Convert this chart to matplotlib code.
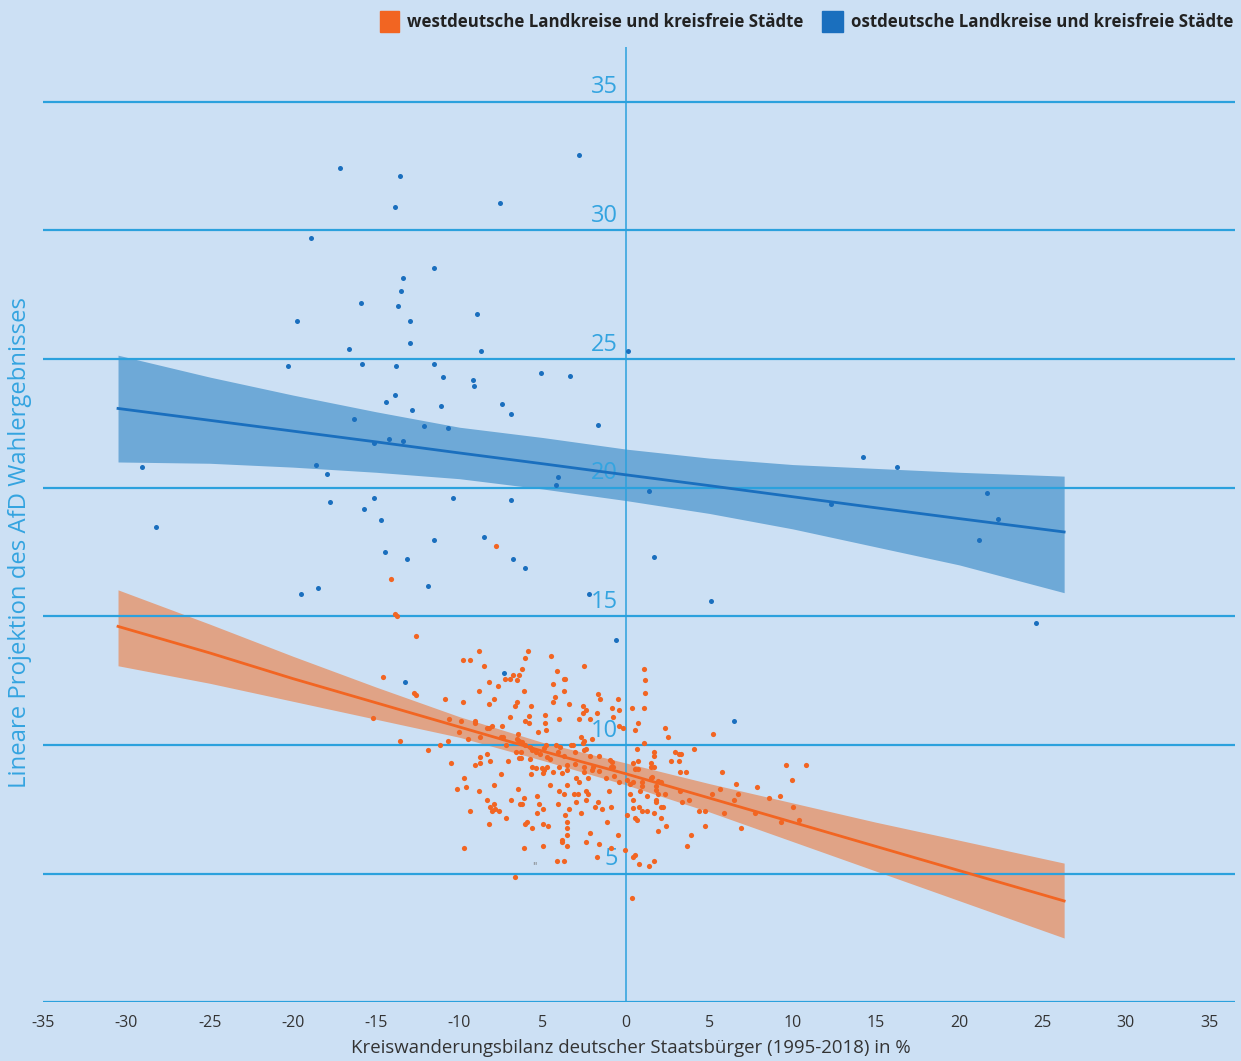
import matplotlib
matplotlib.use("Agg")
import matplotlib.pyplot as plt
from matplotlib.patches import Rectangle

# westdeutsche Landkreise (orange)
west_x = [-7.80, -14.11, -13.87, -13.75, -12.61, -14.59, -12.73, -12.61, -15.19, -13.57, -11.89, -11.17,
          -8.84, -5.87, -6.05, -4.48, -9.80, -9.38, -8.54, -6.24, -2.50, -4.16, -6.77, -6.44, -7.28, -6.98,
          -6.56, -3.72, -3.64, -8.22, -4.36, -7.70, -8.84, -6.14, -3.74, -1.66, -1.54, -4.24, -10.85, -9.80,
          -7.94, -6.54, -6.65, -4.40, -3.42, -0.50, -8.22, -5.72, -2.60, -2.38, -2.60, -1.76, -0.82, -0.40,
          -6.98, -5.82, -4.88, -4.04, -2.80, -2.18, -0.80, -10.64, -9.91, -9.07, -9.07, -8.04, -8.24, -8.34,
          -7.43, -6.05, -5.82, -4.88, -4.80, -5.30, -0.40, -0.20, -10.03, -6.47, -6.56, -6.41, -6.24, -7.49,
          -7.40, -9.49, -8.77, -2.70, -2.50, -2.60, -2.06, -10.67, -7.19, -6.05, -5.75, -5.63, -4.82, -4.90,
          -4.20, -3.96, -3.32, -3.20, -2.54, -2.42, -6.60, -6.29, -5.40, -4.10, -3.04, -8.75, -8.15, -8.36,
          -6.44, -6.32, -5.78, -5.16, -4.72, -4.56, -3.70, -2.16, -1.60, -0.96, -0.84, -10.52, -8.77, -9.05,
          -7.08, -5.64, -5.40, -5.04, -4.76, -4.04, -3.56, -3.08, -2.50, -2.00, -0.92, -0.76,
          -4.92, -4.96, -4.36, -3.86, -3.52, -5.72, -7.50, -2.50, -2.06, -1.64, -1.22, -0.72, -0.40, -2.28,
          -3.00, -2.80, -9.71, -10.13, -9.59, -7.92, -8.84, -6.47, -4.58, -3.52, -4.04, -3.72, -3.12, -2.88,
          -2.40, -2.28, -1.02, -5.32, -6.14, -8.33, -6.89, -2.40, -3.00, -1.66, -7.92, -8.15, -7.85, -8.03,
          -7.61, -6.35, -6.23, -5.20, -4.06, -1.86, -1.44, -0.92, -4.98, -3.42, -9.38, -5.32, -2.68, -3.64,
          0.04, -7.19, -3.54, -1.12, -5.93, -6.05, -8.22, -4.98, -4.68, -5.63, -3.52, -2.16, -3.52, -0.50,
          -3.84, -3.84, -2.38, -1.64, -3.52, -4.98, -9.71, -6.14, -0.92, -0.06, -1.74, -4.16, -3.72, -6.66,
          1.06, 1.16, 1.16, 0.34, 1.06, 0.74, 0.54, 2.32, 2.52, 5.24, 1.06, 0.64, 1.68, 1.68, 2.94, 3.16,
          3.28, 4.10, 0.44, 0.74, 1.48, 1.48, 1.70, 2.72, 3.16, 9.62, 10.79, 0.54, 0.74,
          3.26, 3.58, 5.76, 0.08, 0.44, 0.24, 0.96, 0.96, 1.48, 1.58, 1.92, 2.12, 1.78, 1.78, 0.24, 0.86,
          1.28, 1.92, 2.32, 3.26, 5.66, 6.60, 6.71, 7.86, 9.95, 0.44, 1.78, 1.78, 3.36, 3.78, 5.14, 6.50,
          8.58, 9.23, 0.76, 2.12, 2.22, 0.44, 0.96, 1.28, 1.70, 4.40, 4.72, 5.87, 7.76, 10.04, 0.54, 0.66,
          2.12, 9.32, 10.37, 2.42, 4.72, 1.90, 6.92, 3.88, 3.68, 0.54, 0.44, 0.76, 1.38, 1.70, 0.34]
west_y = [17.73, 16.45, 15.09, 15.01, 14.24, 12.64, 12.02, 11.94, 11.05, 10.16, 9.82, 9.99,
          13.64, 13.64, 13.38, 13.47, 13.30, 13.30, 13.06, 12.97, 13.06, 12.88, 12.72, 12.72, 12.55, 12.55,
          12.53, 12.55, 12.55, 12.45, 12.37, 12.28, 12.11, 12.11, 12.11, 11.98, 11.78, 11.85, 11.78, 11.68,
          11.78, 11.68, 11.52, 11.68, 11.61, 11.78, 11.61, 11.52, 11.52, 11.35, 11.26, 11.26, 11.43, 11.35,
          11.09, 11.12, 11.18, 11.00, 11.00, 11.00, 11.09, 11.00, 10.92, 10.92, 10.84, 10.75, 10.66, 10.66,
          10.75, 10.92, 10.84, 10.84, 10.58, 10.51, 10.75, 10.66, 10.51, 10.42, 10.24, 10.17, 10.12, 10.32,
          10.32, 10.24, 10.32, 10.32, 10.17, 10.08, 10.24, 10.17, 9.99, 9.99, 9.91, 9.81, 9.99, 9.87,
          9.99, 9.91, 9.99, 9.99, 9.81, 9.86, 9.73, 9.73, 9.73, 9.73, 9.73, 9.55, 9.39, 9.65,
          9.49, 9.49, 9.47, 9.65, 9.52, 9.44, 9.56, 9.57, 9.57, 9.42, 9.34, 9.31, 9.31, 9.21,
          9.39, 9.16, 9.11, 9.11, 9.16, 9.16, 9.21, 9.26, 9.16, 9.16, 9.16, 9.16,
          9.03, 8.90, 8.96, 8.90, 9.04, 8.88, 8.88, 8.96, 9.04, 9.00, 8.71, 8.81, 8.55, 8.71,
          8.71, 8.55, 8.71, 8.29, 8.37, 8.45, 8.20, 8.29, 8.45, 8.46, 8.20, 8.11, 8.11, 8.11,
          8.20, 8.11, 8.20, 8.03, 7.95, 7.86, 7.86, 7.86, 7.77, 7.77, 7.70, 7.60, 7.51, 7.43,
          7.43, 7.70, 7.70, 7.70, 7.70, 7.60, 7.52, 7.60, 7.52, 7.52, 7.43, 7.35, 7.35, 7.27,
          7.27, 7.17, 7.01, 7.01, 7.01, 6.92, 6.92, 6.92, 6.84, 6.76, 6.76, 6.58, 6.50, 6.50,
          6.32, 6.22, 6.24, 6.15, 6.07, 6.07, 6.00, 6.00, 6.00, 5.91, 5.65, 5.49, 5.49, 4.88,
          12.97, 12.54, 12.03, 11.44, 11.44, 10.84, 10.58, 10.67, 10.32, 10.42, 10.08, 9.83, 9.74, 9.56, 9.74, 9.65,
          9.65, 9.83, 9.31, 9.39, 9.31, 9.16, 9.16, 9.39, 9.39, 9.22, 9.22, 9.06, 9.06,
          8.96, 8.96, 8.96, 8.64, 8.57, 8.47, 8.55, 8.42, 8.71, 8.77, 8.61, 8.55, 8.42, 8.25, 8.11, 8.20,
          8.03, 8.11, 8.11, 8.20, 8.29, 8.47, 8.11, 8.37, 8.63, 7.87, 7.87, 7.77, 7.77, 7.87, 8.11, 7.87,
          7.95, 8.03, 7.60, 7.60, 7.60, 7.54, 7.43, 7.43, 7.35, 7.43, 7.43, 7.35, 7.35, 7.60, 7.17, 7.09,
          7.17, 7.01, 7.10, 6.84, 6.84, 6.67, 6.76, 6.50, 6.07, 5.72, 5.65, 5.39, 5.31, 5.48, 4.04]

# ostdeutsche Landkreise (blue)
east_x = [-17.17, -13.57, -2.82, -13.87, -7.56, -18.91, -11.53, -13.39, -13.51, -15.91, -13.69, -19.75,
          -8.94, -12.97, -12.97, -16.63, -8.70, 0.12, -20.29, -15.85, -13.81, -11.53, -10.99, -5.10, -3.36,
          -9.19, -9.13, -13.87, -14.41, -7.44, -11.11, -12.85, -6.90, -16.33, -12.13, -10.69, -1.68, -14.23,
          -13.39, -15.13, 14.23, -29.06, -18.61, 16.27, -17.95, -4.08, -4.20, 21.67, 1.38, -15.13, -10.39,
          -6.90, -17.77, 12.31, -15.73, -28.22, -14.71, 22.33, 21.19, -11.53, -8.52, -14.47, -13.15, -6.78,
          1.68, -6.06, -11.89, -18.49, -19.51, -2.22, 5.10, 24.61, -0.60, -7.32, -13.27, 6.48]
east_y = [32.43, 32.11, 32.93, 30.91, 31.07, 29.70, 28.54, 28.15, 27.64, 27.18, 27.06, 26.48,
          26.75, 26.48, 25.62, 25.39, 25.31, 25.31, 24.73, 24.81, 24.73, 24.81, 24.30, 24.46, 24.34,
          24.19, 23.95, 23.60, 23.33, 23.25, 23.18, 23.02, 22.86, 22.67, 22.40, 22.32, 22.44, 21.89,
          21.82, 21.74, 21.19, 20.80, 20.88, 20.80, 20.53, 20.42, 20.11, 19.79, 19.87, 19.60, 19.60,
          19.52, 19.44, 19.37, 19.17, 18.47, 18.74, 18.78, 17.97, 17.97, 18.08, 17.50, 17.23, 17.23,
          17.31, 16.88, 16.18, 16.10, 15.87, 15.87, 15.60, 14.74, 14.08, 12.80, 12.45, 10.93]

# Regressionslinien mit Konfidenzband
fit_x = [-30.5, -25, -20, -15, -10, -5, 0, 5, 10, 15, 20, 26.3]
west_fit = [14.61, 13.58, 12.58, 11.64, 10.70, 9.76, 8.88, 7.94, 7.00, 6.06, 5.12, 3.94]
west_up = [16.03, 14.70, 13.45, 12.25, 11.10, 10.10, 9.30, 8.50, 7.75, 7.00, 6.30, 5.41]
west_lo = [13.08, 12.40, 11.70, 11.00, 10.30, 9.40, 8.45, 7.40, 6.25, 5.10, 3.95, 2.50]
east_fit = [23.08, 22.62, 22.20, 21.78, 21.35, 20.93, 20.50, 20.08, 19.65, 19.22, 18.80, 18.28]
east_up = [25.15, 24.30, 23.60, 22.95, 22.35, 21.95, 21.50, 21.15, 20.90, 20.75, 20.60, 20.45]
east_lo = [21.00, 20.95, 20.80, 20.60, 20.35, 19.95, 19.50, 19.00, 18.40, 17.70, 17.00, 15.92]

x_ticks = [-35, -30, -25, -20, -15, -10, -5, 0, 5, 10, 15, 20, 25, 30, 35]
x_ticklabels = ["-35", "-30", "-25", "-20", "-15", "-10", "5", "0", "5", "10", "15", "20", "25", "30", "35"]
y_ticks = [5, 10, 15, 20, 25, 30, 35]
legend_labels = ["westdeutsche Landkreise und kreisfreie Städte",
                 "ostdeutsche Landkreise und kreisfreie Städte"]

bg = "#cce0f4"
grid_c = "#2ba1dd"
orange = "#f26522"
blue = "#1a6fbe"

fig = plt.figure(figsize=(12.41, 10.61), dpi=100, facecolor=bg)
ax = fig.add_axes([0.0347, 0.0553, 0.9605, 0.9007])
ax.set_facecolor(bg)
ax.set_xlim(-35, 36.56)
ax.set_ylim(0, 37.14)

ax.fill_between(fit_x, east_lo, east_up, color="#6ea9d7", lw=0, zorder=1)
ax.fill_between(fit_x, west_lo, west_up, color="#e0a386", lw=0, zorder=1)

for v in [0] + y_ticks:
    ax.axhline(v, color=grid_c, lw=1.6, zorder=2)
ax.axvline(0, color=grid_c, lw=1.1, zorder=2)

for v in y_ticks:
    ax.annotate(str(v), (0, v), xytext=(-6, 6), textcoords="offset points",
                ha="right", va="baseline", fontsize=17, color="#34a4e0",
                family="Open Sans", zorder=2)

ax.plot(fit_x, east_fit, color=blue, lw=2, zorder=3)
ax.plot(fit_x, west_fit, color=orange, lw=2, zorder=3)

ax.scatter(east_x, east_y, s=13, color=blue, lw=0, zorder=4)
ax.scatter(west_x, west_y, s=14, color=orange, lw=0, zorder=4)
ax.text(-5.5, 5.1, '"', fontsize=7, color="#777777", ha="center", va="bottom")

for s in ax.spines.values():
    s.set_visible(False)
ax.set_yticks([])
ax.set_xticks(x_ticks)
ax.set_xticklabels(x_ticklabels, family="Open Sans", fontsize=11.5, color="#333333")
ax.tick_params(axis="x", length=0, pad=9)
ax.set_xlabel("Kreiswanderungsbilanz deutscher Staatsbürger (1995-2018) in %",
              family="Open Sans", fontsize=13.4, color="#333333", labelpad=6, x=0.4935)

fig.text(0.016, 0.489, "Lineare Projektion des AfD Wahlergebnisses", rotation=90,
         ha="center", va="center", fontsize=17.2, color="#34a4e0", family="Open Sans")

# Legende oben rechts
fig.patches.append(Rectangle((380 / 1241, 1 - 32 / 1061), 19 / 1241, 21 / 1061,
                             transform=fig.transFigure, color=orange))
fig.text(407 / 1241, 1 - 22 / 1061, legend_labels[0],
         ha="left", va="center", fontsize=12.2, fontweight="bold", color="#222222",
         family="Open Sans")
fig.patches.append(Rectangle((822 / 1241, 1 - 32 / 1061), 21 / 1241, 21 / 1061,
                             transform=fig.transFigure, color=blue))
fig.text(851 / 1241, 1 - 22 / 1061, legend_labels[1],
         ha="left", va="center", fontsize=12.2, fontweight="bold", color="#222222",
         family="Open Sans")

plt.savefig("out.png", dpi=100, facecolor=bg)
